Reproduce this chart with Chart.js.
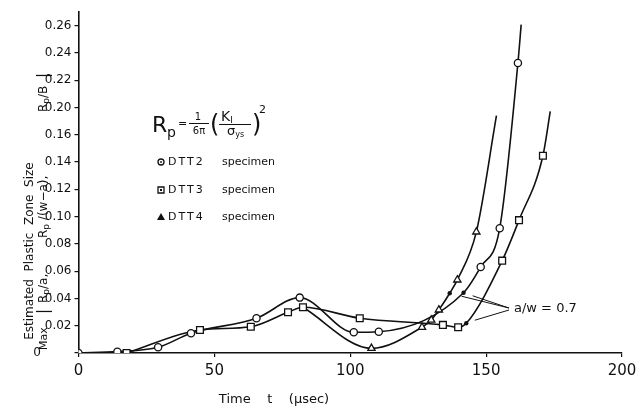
<!DOCTYPE html>
<html>
<head>
<meta charset="utf-8">
<script src="https://cdn.jsdelivr.net/npm/chart.js@4.4.1/dist/chart.umd.min.js"></script>
<style>
  html, body { margin: 0; padding: 0; background: #fff; }
  canvas { display: block; }
</style>
</head>
<body>
<canvas id="zoneChart" width="644" height="410"></canvas>
<script>
// time axis ticks (μsec)
const timeTicks = [0, 50, 100, 150, 200];
// printed labels on the size axis, one per 0.02 step (the printed scale has no 0.18)
const sizeTickLabels = ['0', '0.02', '0.04', '0.06', '0.08', '0.10', '0.12', '0.14', '0.16', '0.20', '0.22', '0.24', '0.26'];

// measured points; sizes are in axis units (0.02 per tick step)
const dtt2Time = [0, 14.3, 29.3, 41.4, 65.5, 81.4, 101.3, 110.5, 148.0, 155.0, 161.7];
const dtt2Size = [0, 0.001, 0.0042, 0.0145, 0.0255, 0.0406, 0.0152, 0.0156, 0.0631, 0.0915, 0.2126];

const dtt3Time = [17.7, 44.7, 63.4, 77.1, 82.6, 103.5, 134.1, 139.7, 155.9, 162.1, 170.9];
const dtt3Size = [0, 0.0169, 0.0193, 0.0299, 0.0335, 0.0255, 0.0206, 0.0189, 0.0677, 0.0974, 0.1446];

const dtt4Time = [107.8, 126.4, 129.8, 132.6, 139.4, 146.4];
const dtt4Size = [0.0034, 0.0189, 0.0242, 0.0316, 0.0536, 0.0888];

// where each curve reaches a/w = 0.7  (DTT2, DTT3, DTT4)
const awTime = [141.7, 142.7, 136.6];
const awSize = [0.0442, 0.0218, 0.0438];

// the fitted curves run on past the last measurement  (DTT2, DTT3, DTT4)
const tailTime = [162.9, 173.6, 153.8];
const tailSize = [0.2407, 0.1771, 0.174];

// DTT4 branches off the DTT3 curve at this DTT3 point
const dtt4BranchIndex = 4;

const INK = '#111';
const FONT = '"DejaVu Sans", sans-serif';

const pts = (xs, ys) => xs.map((x, i) => ({ x: x, y: ys[i] }));
const byTime = (a, b) => a.x - b.x;
const extra = i => [{ x: awTime[i], y: awSize[i] }, { x: tailTime[i], y: tailSize[i] }];

const curve2 = pts(dtt2Time, dtt2Size).concat(extra(0)).sort(byTime);
const curve3 = pts(dtt3Time, dtt3Size).concat(extra(1)).sort(byTime);
const curve4 = [{ x: dtt3Time[dtt4BranchIndex], y: dtt3Size[dtt4BranchIndex] }]
  .concat(pts(dtt4Time, dtt4Size), extra(2)).sort(byTime);

function curveSet(data) {
  return {
    data: data, showLine: true, pointRadius: 0, pointHoverRadius: 0,
    borderColor: INK, borderWidth: 1.6, cubicInterpolationMode: 'monotone', order: 3
  };
}
function markerSet(data, style, r) {
  return {
    data: data, showLine: false, pointStyle: style, pointRadius: r,
    pointBorderWidth: 1.3, pointBorderColor: INK, pointBackgroundColor: '#fff', order: 1
  };
}

// draw a run of text pieces: [text, size, dy]
function textRun(ctx, x, y, pieces) {
  let cx = x;
  pieces.forEach(p => {
    ctx.font = p[1] + 'px ' + FONT;
    ctx.fillText(p[0], cx, y + (p[2] || 0));
    cx += ctx.measureText(p[0]).width;
  });
  return cx;
}

const decorations = {
  id: 'decorations',
  afterDraw(chart) {
    const ctx = chart.ctx;
    const xs = chart.scales.x, ys = chart.scales.y;
    ctx.save();
    ctx.fillStyle = INK;
    ctx.strokeStyle = INK;

    // x title
    ctx.font = '13px ' + FONT;
    ctx.textAlign = 'center';
    ctx.textBaseline = 'middle';
    ctx.fillText('Time    t    (\u03bcsec)', 274, 400);

    // y title, two rotated lines
    ctx.save();
    ctx.translate(30, 251);
    ctx.rotate(-Math.PI / 2);
    ctx.font = '12px ' + FONT;
    ctx.fillText('Estimated  Plastic  Zone  Size', 0, 0);
    ctx.restore();

    ctx.save();
    ctx.translate(44, 350);
    ctx.rotate(-Math.PI / 2);
    ctx.textAlign = 'left';
    ctx.textBaseline = 'middle';
    textRun(ctx, 0, 0, [['Max', 11]]);
    textRun(ctx, 36, 0, [['|', 15]]);
    textRun(ctx, 47, 0, [['R', 12], ['p', 9, 3], ['/a,', 12]]);
    textRun(ctx, 112, 0, [['R', 12], ['p', 9, 3], [' /(w\u2212a),', 12]]);
    textRun(ctx, 238, 0, [['R', 12], ['p', 9, 3], ['/B', 12]]);
    textRun(ctx, 272, 0, [['|', 15]]);
    ctx.restore();

    // plastic zone formula
    ctx.textAlign = 'left';
    ctx.textBaseline = 'alphabetic';
    textRun(ctx, 152, 132, [['R', 22]]);
    textRun(ctx, 167, 137, [['p', 14]]);
    textRun(ctx, 178, 127, [['=', 11]]);
    ctx.textAlign = 'center';
    textRun(ctx, 198, 120, [['1', 10]]);
    ctx.font = '10px ' + FONT;
    ctx.fillText('6\u03c0', 199, 134);
    ctx.lineWidth = 1;
    ctx.beginPath();
    ctx.moveTo(189, 123.5); ctx.lineTo(209, 123.5);
    ctx.moveTo(219, 124.5); ctx.lineTo(251, 124.5);
    ctx.stroke();
    ctx.textAlign = 'left';
    textRun(ctx, 210, 132, [['(', 24]]);
    textRun(ctx, 221, 121, [['K', 14], ['I', 9, 2]]);
    textRun(ctx, 227, 135, [['\u03c3', 13], ['ys', 8, 2]]);
    textRun(ctx, 252, 132, [[')', 24]]);
    textRun(ctx, 259, 113, [['2', 11]]);

    // legend
    const rows = [['circle', 'DTT2', 162], ['rect', 'DTT3', 190], ['triangle', 'DTT4', 217]];
    rows.forEach(r => {
      const mx = 161, my = r[2];
      ctx.lineWidth = 1.3;
      ctx.beginPath();
      if (r[0] === 'circle') {
        ctx.arc(mx, my, 3, 0, Math.PI * 2);
        ctx.stroke();
        ctx.beginPath();
        ctx.arc(mx, my, 0.9, 0, Math.PI * 2);
        ctx.fill();
      } else if (r[0] === 'rect') {
        ctx.rect(mx - 3, my - 3, 6, 6);
        ctx.stroke();
        ctx.fillRect(mx - 1, my - 1, 2, 2);
      } else {
        ctx.moveTo(mx, my - 4); ctx.lineTo(mx + 4, my + 3); ctx.lineTo(mx - 4, my + 3);
        ctx.closePath();
        ctx.fill();
      }
      ctx.textAlign = 'left';
      ctx.textBaseline = 'middle';
      ctx.font = '11px ' + FONT;
      if ('letterSpacing' in ctx) ctx.letterSpacing = '2px';
      ctx.fillText(r[1], 168, my);
      if ('letterSpacing' in ctx) ctx.letterSpacing = '0px';
      ctx.fillText('specimen', 222, my);
    });

    // a/w = 0.7 callout
    const ax = 509, ay = 308;
    ctx.lineWidth = 1;
    ctx.beginPath();
    awTime.forEach((t, i) => {
      const px = xs.getPixelForValue(t), py = ys.getPixelForValue(awSize[i]);
      ctx.moveTo(px + (ax - px) * 0.2, py + (ay - py) * 0.2);
      ctx.lineTo(ax, ay + (i === 1 ? 2 : 0));
    });
    ctx.stroke();
    ctx.font = '13px ' + FONT;
    ctx.textAlign = 'left';
    ctx.textBaseline = 'middle';
    ctx.fillText('a/w = 0.7', 514, 309);
    ctx.restore();
  }
};

new Chart(document.getElementById('zoneChart'), {
  type: 'scatter',
  data: {
    datasets: [
      curveSet(curve2), curveSet(curve3), curveSet(curve4),
      markerSet(pts(dtt2Time, dtt2Size), 'circle', 3.6),
      markerSet(pts(dtt3Time, dtt3Size), 'rect', 4.8),
      markerSet(pts(dtt4Time, dtt4Size), 'triangle', 4.2),
      {
        data: pts(awTime, awSize), showLine: false, pointStyle: 'circle', pointRadius: 2.2,
        pointBorderWidth: 0, pointBackgroundColor: INK, order: 0
      }
    ]
  },
  options: {
    responsive: false,
    animation: false,
    events: [],
    layout: { padding: { top: 12, right: 22, left: 0, bottom: 0 } },
    plugins: { legend: { display: false }, tooltip: { enabled: false } },
    scales: {
      x: {
        type: 'linear', min: 0, max: 200,
        afterBuildTicks: s => { s.ticks = timeTicks.map(v => ({ value: v })); },
        afterFit: s => { s.height = 57; },
        ticks: { font: { family: FONT, size: 15 }, color: INK, padding: 5, maxRotation: 0 },
        grid: { drawOnChartArea: false, tickLength: 4, color: INK, lineWidth: 1.2 },
        border: { color: INK, width: 1.6 }
      },
      y: {
        type: 'linear', min: 0, max: 0.25,
        afterBuildTicks: s => { s.ticks = sizeTickLabels.map((_, i) => ({ value: i * 0.02 })); },
        afterFit: s => { s.width = 78.5; },
        ticks: {
          font: { family: FONT, size: 12 }, color: INK, padding: 3,
          callback: (v, i) => i === 0 ? '0' + ' '.repeat(8) : sizeTickLabels[i]
        },
        grid: { drawOnChartArea: false, tickLength: 4, color: INK, lineWidth: 1.2 },
        border: { color: INK, width: 1.6 }
      }
    }
  },
  plugins: [decorations]
});
</script>
</body>
</html>
